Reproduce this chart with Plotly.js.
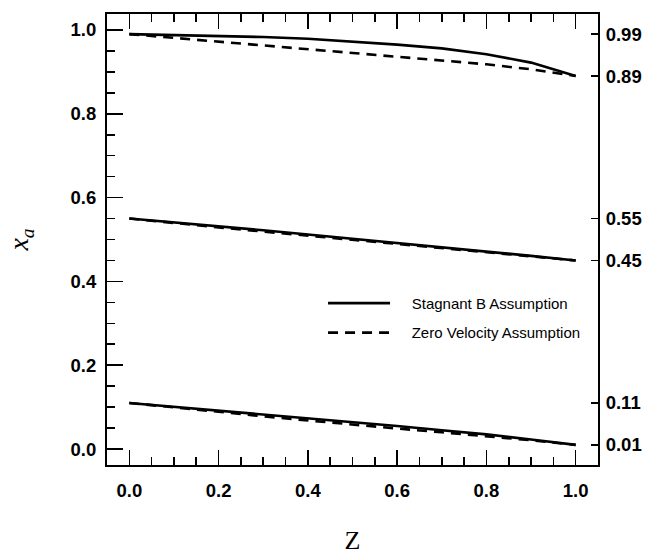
<!DOCTYPE html>
<html>
<head>
<meta charset="utf-8">
<script src="https://cdn.plot.ly/plotly-3.0.1.min.js"></script>
<style>html,body{margin:0;padding:0;background:#fff;}#chart{width:649px;height:555px;}</style>
</head>
<body>
<div id="chart"></div>
<script>
// Dimensionless position along the column
const z = [0, 0.1, 0.2, 0.3, 0.4, 0.5, 0.6, 0.7, 0.8, 0.9, 1.0];

// Mole fraction x_a, upper pair (0.99 -> 0.89)
const upperStagnant = [0.99, 0.988, 0.986, 0.983, 0.979, 0.972, 0.965, 0.956, 0.942, 0.922, 0.89];
const upperZeroVel  = [0.99, 0.981, 0.972, 0.963, 0.954, 0.945, 0.936, 0.927, 0.918, 0.906, 0.89];

// Middle pair (0.55 -> 0.45)
const midStagnant = [0.55, 0.541, 0.532, 0.522, 0.512, 0.502, 0.492, 0.482, 0.471, 0.461, 0.45];
const midZeroVel  = [0.55, 0.539, 0.529, 0.519, 0.509, 0.499, 0.489, 0.479, 0.469, 0.459, 0.45];

// Lower pair (0.11 -> 0.01)
const lowStagnant = [0.11, 0.101, 0.092, 0.083, 0.074, 0.065, 0.055, 0.045, 0.035, 0.023, 0.01];
const lowZeroVel  = [0.11, 0.100, 0.089, 0.078, 0.068, 0.058, 0.049, 0.040, 0.031, 0.021, 0.01];

// Left / bottom tick labels
const mainTickVals = [0, 0.2, 0.4, 0.6, 0.8, 1.0];
const mainTickText = ['0.0', '0.2', '0.4', '0.6', '0.8', '1.0'];

// Right-hand axis tick labels (boundary values)
const rightTickVals = [0.01, 0.11, 0.45, 0.55, 0.89, 0.99];
const rightTickText = ['0.01', '0.11', '0.45', '0.55', '0.89', '0.99'];

const seriesNames = ['Stagnant B Assumption', 'Zero Velocity Assumption'];

const solid = {color: '#000', width: 2.6, dash: 'solid'};
const dashed = {color: '#000', width: 2.6, dash: '10px,7px'};

const pad = '\u00a0\u00a0\u00a0\u00a0';

function tr(y, line, name, show, grp) {
  return {x: z, y: y, type: 'scatter', mode: 'lines', line: line, name: pad + name,
          showlegend: show, legendgroup: grp, hoverinfo: 'skip'};
}

const data = [
  tr(upperStagnant, solid, seriesNames[0], true, 'a'),
  tr(upperZeroVel, dashed, seriesNames[1], true, 'b'),
  tr(midStagnant, solid, seriesNames[0], false, 'a'),
  tr(midZeroVel, dashed, seriesNames[1], false, 'b'),
  tr(lowStagnant, solid, seriesNames[0], false, 'a'),
  tr(lowZeroVel, dashed, seriesNames[1], false, 'b'),
  {x: [0], y: [0.5], yaxis: 'y2', showlegend: false, type: 'scatter', mode: 'markers',
   marker: {opacity: 0}, hoverinfo: 'skip'}
];

const tickFont = {family: 'Liberation Sans, Arial, sans-serif', size: 18.5, color: '#000', weight: 'bold'};
const yRange = [-0.038, 1.038];

const layout = {
  width: 649, height: 555,
  margin: {l: 107, r: 51, t: 14, b: 90},
  paper_bgcolor: '#fff', plot_bgcolor: '#fff',
  showlegend: true,
  legend: {
    x: 0.44, y: 0.395, xanchor: 'left', yanchor: 'top',
    font: {family: 'Liberation Sans, Arial, sans-serif', size: 15, color: '#000'},
    bgcolor: 'rgba(0,0,0,0)', traceorder: 'grouped', tracegroupgap: 7,
    itemwidth: 62
  },
  xaxis: {
    range: [-0.05, 1.05], tickvals: mainTickVals, ticktext: mainTickText,
    ticks: 'inside', ticklen: 15, tickwidth: 1.6, tickcolor: '#000',
    minor: {dtick: 0.05, tick0: 0, ticks: 'inside', ticklen: 8, tickwidth: 1.6, tickcolor: '#000'},
    showline: true, linecolor: '#000', linewidth: 2, mirror: 'ticks',
    showgrid: false, zeroline: false, tickfont: tickFont, ticklabelstandoff: 8,
    title: {text: 'Z', font: {family: 'Liberation Serif, Times New Roman, serif', size: 26, color: '#000'}, standoff: 38}
  },
  yaxis: {
    range: yRange, tickvals: mainTickVals, ticktext: mainTickText,
    ticks: 'inside', ticklen: 16, tickwidth: 1.6, tickcolor: '#000',
    minor: {dtick: 0.05, tick0: 0, ticks: 'inside', ticklen: 8, tickwidth: 1.6, tickcolor: '#000'},
    showline: true, linecolor: '#000', linewidth: 2, mirror: false,
    showgrid: false, zeroline: false, tickfont: tickFont, ticklabelstandoff: 5,
    title: {text: '<i>x</i><sub><i>a</i></sub>', font: {family: 'Liberation Serif, Times New Roman, serif', size: 28, color: '#000'}, standoff: 34}
  },
  yaxis2: {
    overlaying: 'y', side: 'right', range: yRange,
    tickvals: rightTickVals, ticktext: rightTickText,
    ticks: 'inside', ticklen: 7, tickwidth: 1.6, tickcolor: '#000',
    showline: true, linecolor: '#000', linewidth: 2,
    showgrid: false, zeroline: false, tickfont: tickFont, ticklabelstandoff: 2
  }
};

Plotly.newPlot('chart', data, layout, {staticPlot: true, displayModeBar: false});
</script>
</body>
</html>
